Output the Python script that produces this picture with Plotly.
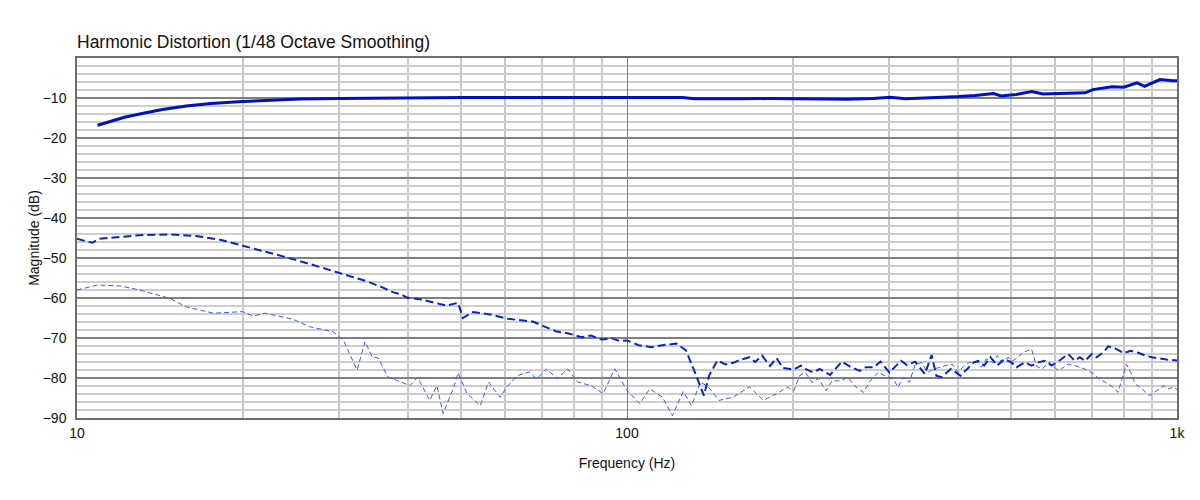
import plotly.graph_objects as go

# Fundamental (solid, thick)
fund_hz = [10.9, 11.5, 12.2, 13.2, 14.3, 15.8, 17.5, 20, 22.5, 25.4, 30, 35, 40, 50, 60, 70, 80, 89,
           100, 115, 126, 133, 142, 160, 180, 198, 225, 252, 280, 301, 321, 350, 375, 401, 430, 464,
           479, 510, 544, 571, 620, 681, 703, 740, 762, 800, 846, 873, 931, 984, 1000]
fund_db = [-16.8, -15.8, -14.8, -13.8, -12.9, -12.0, -11.4, -10.9, -10.5, -10.25, -10.1, -10.0, -9.95,
           -9.9, -9.85, -9.85, -9.85, -10.0, -9.95, -9.9, -9.85, -10.2, -10.25, -10.2, -10.15, -10.2,
           -10.3, -10.3, -10.1, -9.8, -10.2, -9.9, -9.8, -9.65, -9.4, -8.9, -9.5, -9.1, -8.4, -9.0,
           -8.8, -8.7, -7.9, -7.5, -7.2, -7.3, -6.2, -7.1, -5.4, -5.7, -5.7]

# 2nd harmonic (dashed, thick)
h2_hz = [10, 10.65, 11, 12, 13, 14.8, 16.7, 18.3, 20, 21.8, 23.7, 26.5, 30, 33.6, 36, 37.6, 38.7,
         39.8, 42, 44.4, 47, 49.3, 50.3, 52.5, 56.4, 60.7, 64, 67.4, 71, 74.5, 78, 82.8, 86, 90, 94,
         97, 100, 105, 111, 116, 123, 128, 133.6, 138, 141, 146, 151, 156, 161, 167, 171, 176, 182,
         187, 192, 196, 201, 207, 211, 218, 224, 234, 246, 254, 265, 272, 281, 289, 300, 315, 323,
         334, 348, 358, 365, 373, 388, 404, 427, 435, 446, 458, 471, 485, 500, 511, 529, 544, 559,
         575, 592, 617, 634, 652, 666, 680, 700, 714, 735, 750, 772, 800, 824, 853, 876, 900, 925,
         957, 1000]
h2_db = [-45.2, -46.2, -45.2, -44.8, -44.3, -44.1, -44.6, -45.5, -46.9, -48.2, -49.6, -51.5, -53.8,
         -55.8, -57.4, -58.6, -59.0, -59.9, -60.3, -61.0, -61.9, -61.2, -65.0, -63.5, -64.1, -65.2,
         -65.6, -65.9, -67.2, -68.4, -68.8, -69.8, -69.4, -70.4, -70.1, -70.8, -70.6, -71.8, -72.3,
         -71.8, -71.4, -73.1, -79.4, -84.4, -79.4, -75.6, -76.6, -76.2, -75.4, -74.8, -76.0, -74.4,
         -77.0, -75.0, -77.5, -77.6, -77.9, -76.9, -77.75, -78.6, -77.75, -79.25, -75.9, -77.1,
         -78.2, -77.3, -77.3, -75.9, -78.6, -75.7, -76.75, -75.9, -79.0, -74.25, -79.4, -79.8,
         -77.75, -79.4, -76.1, -75.7, -76.9, -74.8, -76.9, -75.25, -76.1, -77.3, -76.1, -76.9,
         -76.1, -75.7, -76.9, -75.25, -74.0, -75.7, -74.8, -75.7, -74.0, -74.8, -73.6, -72.1,
         -72.6, -73.75, -73.2, -73.75, -74.4, -74.8, -75.1, -75.4, -75.6]

# 3rd harmonic (dashed, thin)
h3_hz = [10, 10.9, 12, 13, 14.75, 15.8, 17.7, 20, 20.9, 22, 24.7, 26.5, 29.2, 30.5, 32.3, 33.4,
         34.4, 35.3, 36.7, 38.7, 40.3, 41.6, 42.9, 43.8, 45.1, 46.3, 48.3, 49.3, 51.2, 54.1, 56,
         58.8, 60.5, 63.2, 66.4, 68.5, 71.4, 74.6, 78, 81.3, 86, 90.5, 95, 100, 105.5, 110, 116,
         121, 126.5, 131, 136, 140.5, 147, 156, 167, 177, 187, 196, 201, 206, 211, 217, 223, 230,
         236, 245, 252, 259, 269, 277, 286, 294, 305, 311, 318, 326, 334, 343, 352, 361, 380, 390,
         400, 410, 420, 435, 441, 450, 463, 471, 481, 493, 503, 514, 525, 536, 544, 555, 568, 585,
         609, 634, 652, 680, 706, 721, 742, 765, 781, 798, 809, 824, 840, 863, 892, 918, 946, 965,
         985, 1000]
h3_db = [-58.0, -56.75, -57.0, -58.0, -60.1, -62.2, -63.8, -63.4, -64.5, -63.8, -65.3, -67.2,
         -68.4, -70.5, -78.0, -70.9, -74.7, -75.0, -79.7, -81.0, -81.9, -79.8, -83.1, -85.6, -81.9,
         -88.9, -82.7, -78.7, -83.9, -86.9, -81.0, -84.8, -82.2, -79.4, -78.5, -80.2, -77.7, -80.2,
         -77.7, -81.0, -81.9, -83.9, -77.7, -83.1, -86.4, -82.7, -84.8, -89.4, -83.4, -86.9, -81.0,
         -82.2, -85.6, -84.8, -82.2, -85.6, -83.9, -82.3, -83.2, -79.4, -78.6, -81.1, -80.1,
         -83.2, -80.7, -80.7, -79.8, -81.9, -83.6, -80.7, -78.6, -79.4, -80.25, -82.3, -79.8,
         -81.1, -76.75, -76.1, -78.6, -77.75, -76.9, -76.5, -78.6, -76.9, -76.1, -76.1, -77.3,
         -75.25, -76.1, -74.4, -76.1, -74.8, -75.7, -74.8, -73.6, -73.2, -72.75, -77.0, -77.75,
         -76.1, -78.2, -76.5, -76.9, -77.75, -79.0, -80.25, -81.1, -82.3, -83.6, -79.4, -76.5,
         -78.6, -81.5, -82.7, -84.4, -83.2, -81.9, -82.7, -82.3, -82.9]

x_ticks = [10, 100, 1000]
x_tick_text = ["10", "100", "1k"]
x_minor = [d * m for m in (10, 100) for d in range(2, 10)]
y_ticks = list(range(-90, 0, 10))

fig = go.Figure()
fig.add_trace(go.Scatter(x=h3_hz, y=h3_db, mode="lines",
                         line=dict(color="#3a5cf0", width=1, dash="5px,3px")))
fig.add_trace(go.Scatter(x=h2_hz, y=h2_db, mode="lines",
                         line=dict(color="#0a24cc", width=2, dash="8px,4px")))
fig.add_trace(go.Scatter(x=fund_hz, y=fund_db, mode="lines",
                         line=dict(color="#0012bf", width=3)))

# la página tiene un margen de 8 px, por eso se compensa aquí
fig.update_layout(
    width=1200, height=500,
    margin=dict(l=69, r=31, t=50, b=90),
    paper_bgcolor="white", plot_bgcolor="white",
    showlegend=False,
    font=dict(family="Liberation Sans, Arial, sans-serif", size=14, color="#111"),
    title=dict(text="Harmonic Distortion (1/48 Octave Smoothing)", x=0.0575, xanchor="left",
               y=0.932, yanchor="middle", font=dict(size=17.5, color="#111")),
)
fig.update_xaxes(
    type="log", range=[1, 3], automargin=False,
    tickvals=x_ticks, ticktext=x_tick_text, ticks="", ticklabelstandoff=1,
    showgrid=True, gridcolor="#7a7a7a", gridwidth=1.2,
    minor=dict(tickvals=x_minor, showgrid=True, gridcolor="#c8c8c8", gridwidth=1.5),
    showline=True, linecolor="#6e6e6e", linewidth=1.5, mirror=True,
    title=dict(text="Frequency (Hz)", standoff=19, font=dict(size=14)),
    zeroline=False,
)
fig.update_yaxes(
    range=[-90, 0], tickvals=y_ticks, ticks="", ticklabelstandoff=6, automargin=False,
    showgrid=True, gridcolor="#808080", gridwidth=1.5,
    minor=dict(dtick=2, showgrid=True, gridcolor="#cdcdcd", gridwidth=1.5),
    showline=True, linecolor="#6e6e6e", linewidth=1.5, mirror=True,
    title=dict(text="Magnitude (dB)", standoff=0, font=dict(size=14)),
    zeroline=False,
)

fig.write_html("out.html")
